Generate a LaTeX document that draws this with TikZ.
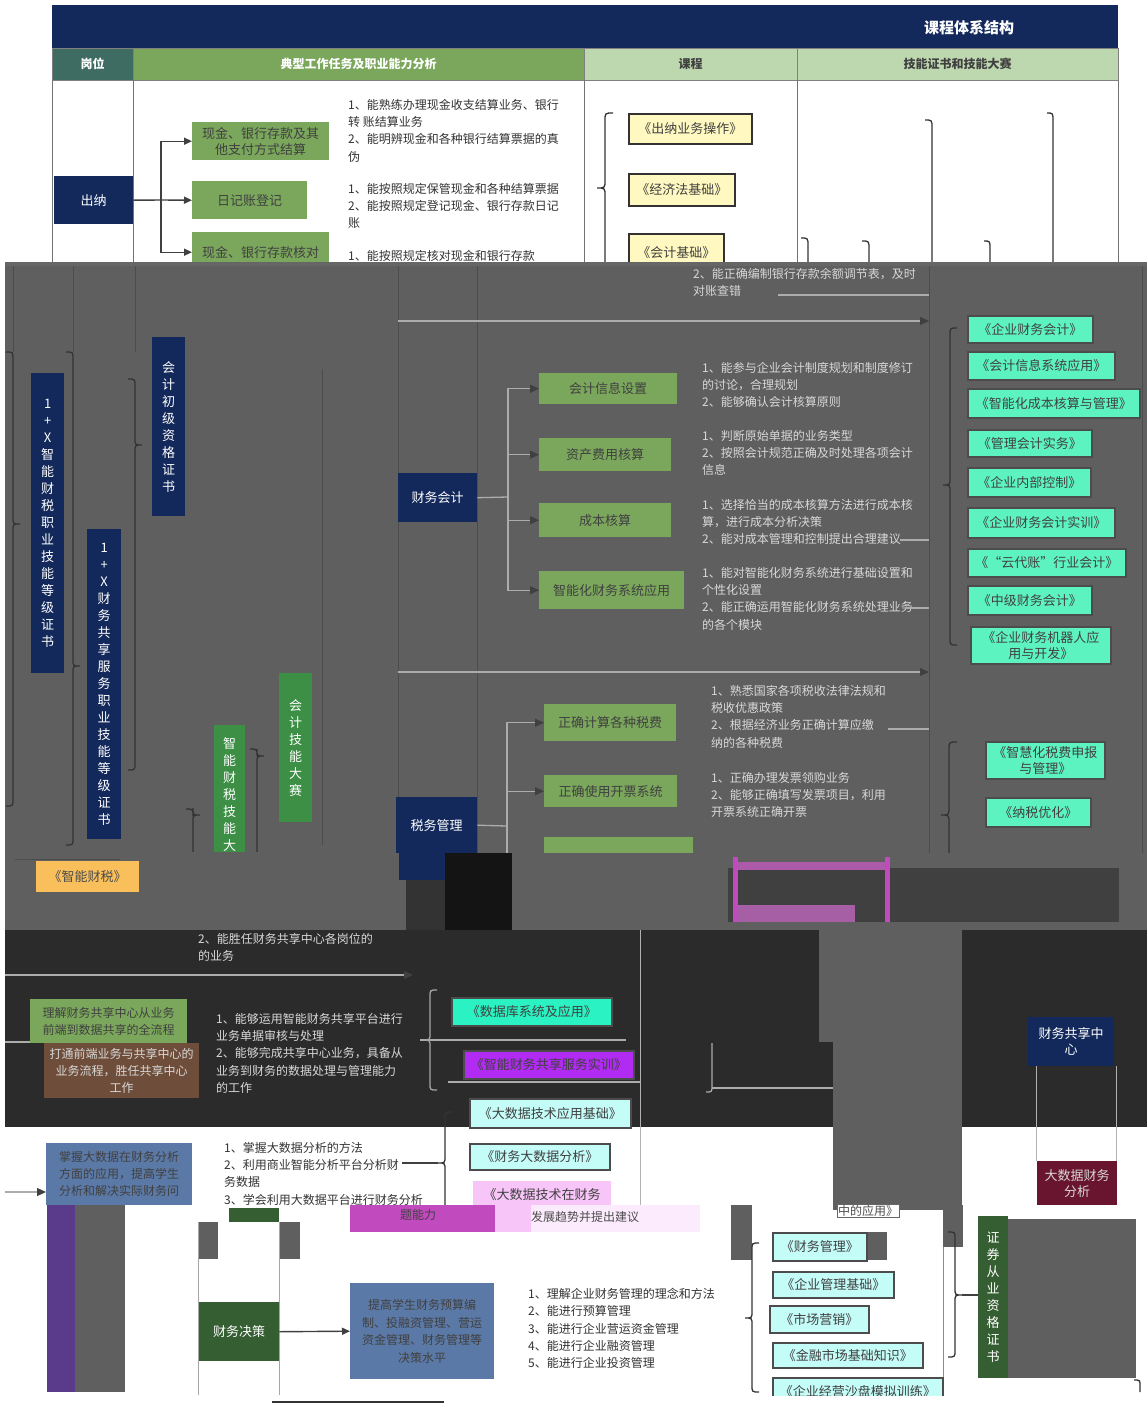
\documentclass[tikz,border=0pt]{standalone}
\usepackage{fontspec}
\setmainfont{Noto Sans CJK SC}
\usetikzlibrary{arrows.meta}
\definecolor{cnavy}{HTML}{13295B}
\definecolor{chteal}{HTML}{3E6B62}
\definecolor{cgreen}{HTML}{7BA75C}
\definecolor{clgreen}{HTML}{BDD7AE}
\definecolor{cyellow}{HTML}{FFF8C0}
\definecolor{cgray}{HTML}{5F5F5F}
\definecolor{cdark}{HTML}{2B2B2B}
\definecolor{cteal}{HTML}{5DF3C0}
\definecolor{cteal2}{HTML}{2AF2C2}
\definecolor{cpurple}{HTML}{B12BF2}
\definecolor{ccyan}{HTML}{C4FCF8}
\definecolor{cpink}{HTML}{F8C5F8}
\definecolor{cvgreen}{HTML}{3C8F45}
\definecolor{corange}{HTML}{F9BF5B}
\definecolor{csteel}{HTML}{5B79A6}
\definecolor{cdkgreen}{HTML}{355E32}
\definecolor{cmaroon}{HTML}{6A1530}
\definecolor{cmagenta}{HTML}{C04ABE}
\definecolor{cbrown}{HTML}{6E4E3A}
\definecolor{cltext}{HTML}{D8D8D8}
\definecolor{cviolet}{HTML}{5A3A8A}
\newcommand\mybox[7]{\node[#2,anchor=north west,minimum width={(#5-#3)*1pt},minimum height={(#6-#4)*1pt}] (#1) at (#3,#4) {#7};}
\newcommand\mybrace[6][]{\draw[brc,#1] (#2,#3) .. controls ({#2+#6},#3) .. ({#2+#6},{#3+abs(#6)}) -- ({#2+#6},{#4-abs(#6)}) .. controls ({#2+#6},#4) .. ({#2+2*#6},#4) .. controls ({#2+#6},#4) .. ({#2+#6},{#4+abs(#6)}) -- ({#2+#6},{#5-abs(#6)}) .. controls ({#2+#6},#5) .. (#2,#5);}
\begin{document}
\begin{tikzpicture}[x=1pt,y=-1pt,
 every node/.style={inner sep=1pt,align=center},
 hdr/.style={draw=black!50,font=\fontsize{12}{14}\selectfont\bfseries},
 nbox/.style={fill=cnavy,text=white,font=\fontsize{13}{16}\selectfont},
 gbox/.style={fill=cgreen,text=black!75,font=\fontsize{13}{16}\selectfont},
 ybox/.style={fill=cyellow,draw=black!80,line width=1.6pt,text=black!75,font=\fontsize{13}{16}\selectfont},
 tbox/.style={fill=cteal,draw=black!70,line width=1.6pt,text=black!75,font=\fontsize{13}{16}\selectfont},
 cbox/.style={fill=ccyan,draw=black!70,line width=1.6pt,text=black!75,font=\fontsize{13}{16}\selectfont},
 vbox/.style={text=white,font=\fontsize{13}{17}\selectfont},
 desc/.style={anchor=north west,align=left,inner sep=0pt,text=black!80,font=\fontsize{12}{17.3}\selectfont},
 gdesc/.style={desc,text=cltext},
 conn/.style={line width=1.4pt,draw=black!75},
 arr/.style={conn,-{Triangle[length=8pt,width=7pt]}},
 lconn/.style={line width=1.3pt,draw=gray!65},
 larr/.style={lconn,-{Triangle[length=9pt,width=8pt,color=black!75]}},
 brc/.style={line width=1.3pt,draw=black!80},
]
\useasboundingbox (0,0) rectangle (1147,1411);
\fill[white] (0,0) rectangle (1147,1411);
% ---------- header
\fill[cnavy] (52,5) rectangle (1118,48);
\node[text=white,font=\fontsize{15}{18}\selectfont\bfseries] (title) at (969,28) {课程体系结构};
\mybox{hA}{hdr,fill=chteal,text=white}{52}{48}{133}{80}{岗位}
\mybox{hB}{hdr,fill=cgreen,text=white}{133}{48}{584}{80}{典型工作任务及职业能力分析}
\mybox{hC}{hdr,fill=clgreen,text=black!75}{584}{48}{797}{80}{课程}
\mybox{hD}{hdr,fill=clgreen,text=black!75}{797}{48}{1118}{80}{技能证书和技能大赛}
\foreach \x in {52,133,584,797,1118} \draw[black!55,line width=1pt] (\x,80) -- (\x,262);
% ---------- cashier section
\mybox{cn}{nbox}{54}{176}{133}{224}{出纳}
\mybox{g1}{gbox}{192}{122}{329}{160}{现金、银行存款及其\\他支付方式结算}
\mybox{g2}{gbox}{192}{181}{307}{219}{日记账登记}
\mybox{g3}{gbox}{192}{232}{329}{272}{现金、银行存款核对}
\coordinate (j1) at (161,200);
\draw[conn] (cn.east) -- (j1);
\draw[arr] (j1) |- (g1.west);
\draw[arr] (j1) -- (g2.west);
\draw[arr] (j1) |- (g3.west);
\node[desc] (t1) at (348,99) {1、能熟练办理现金收支结算业务、银行\\转 账结算业务\\2、能明辨现金和各种银行结算票据的真\\伪};
\node[desc] (t2) at (348,183) {1、能按照规定保管现金和各种结算票据\\2、能按照规定登记现金、银行存款日记\\账};
\node[desc] (t3) at (348,250) {1、能按照规定核对现金和银行存款};
\mybrace{613}{113}{188}{275}{-8}
\mybox{y1}{ybox}{628}{113}{751}{143}{《出纳业务操作》}
\mybox{y2}{ybox}{628}{173}{734}{205}{《经济法基础》}
\mybox{y3}{ybox}{628}{233}{723}{270}{《会计基础》}
\draw[brc] (925,120) .. controls (932,120) .. (932,128) -- (932,262);
\draw[brc] (1047,113) .. controls (1053,113) .. (1053,121) -- (1053,262);
\draw[brc] (801,238) .. controls (808,238) .. (808,246) -- (808,262);
\draw[brc] (862,241) .. controls (869,241) .. (869,249) -- (869,262);
\draw[brc] (984,241) .. controls (990,241) .. (990,249) -- (990,262);
% ---------- gray section
\fill[cgray] (5,262) rectangle (1147,930);
\fill[black!60] (5,262) rectangle (1147,266);
\foreach \x in {13,73,135} \draw[black!70,line width=1pt] (\x,266) -- (\x,352);
\draw[black!70,line width=1pt] (398,266) -- (398,930);
\draw[black!70,line width=1pt] (477,266) -- (477,930);
\draw[black!70,line width=1pt] (929,266) -- (929,930);
\draw[black!70,line width=1pt] (1142,266) -- (1142,930);
\draw[black!70,line width=1pt] (322,369) -- (322,845);
\node[gdesc] (t0) at (693,268) {2、能正确编制银行存款余额调节表，及时\\对账查错};
\draw[lconn] (778,295) -- (929,295);
\coordinate (a1s) at (398,321); \coordinate (a1e) at (929,321);
\draw[larr] (a1s) -- (a1e);
\coordinate (a2s) at (398,672); \coordinate (a2e) at (929,672);
\draw[larr] (a2s) -- (a2e);
% left certificate braces and boxes
\mybrace{6}{352}{524}{806}{7}
\mybrace{66}{352}{666}{845}{7}
\mybrace{128}{379}{445}{770}{7}
\begin{scope}
\clip (150,700) rectangle (275,851);
\mybrace{186}{809}{815}{870}{7}
\mybrace{250}{749}{756}{870}{7}
\mybox{v4}{vbox,fill=cvgreen}{214}{725}{245}{880}{智\\能\\财\\税\\技\\能\\大\\赛}
\end{scope}
\mybox{v1}{vbox,fill=cnavy}{31}{373}{64}{673}{1\\+\\X\\智\\能\\财\\税\\职\\业\\技\\能\\等\\级\\证\\书}
\mybox{v2}{vbox,fill=cnavy}{87}{529}{121}{839}{1\\+\\X\\财\\务\\共\\享\\服\\务\\职\\业\\技\\能\\等\\级\\证\\书}
\mybox{v3}{vbox,fill=cnavy}{152}{337}{185}{516}{会\\计\\初\\级\\资\\格\\证\\书}
\mybox{v5}{vbox,fill=cvgreen}{279}{673}{312}{822}{会\\计\\技\\能\\大\\赛}
% financial accounting
\mybox{fk}{nbox}{398}{473}{477}{522}{财务会计}
\mybox{k1}{gbox}{539}{373}{677}{404}{会计信息设置}
\mybox{k2}{gbox}{539}{438}{671}{471}{资产费用核算}
\mybox{k3}{gbox}{539}{503}{671}{537}{成本核算}
\mybox{k4}{gbox}{539}{571}{684}{609}{智能化财务系统应用}
\coordinate (j2) at (508,497);
\draw[lconn] (fk.east) -- (j2);
\draw[larr] (j2) |- (k1.west);
\draw[larr] (j2) |- (k2.west);
\draw[larr] (j2) |- (k3.west);
\draw[larr] (j2) |- (k4.west);
\node[gdesc] (d1) at (702,362) {1、能参与企业会计制度规划和制度修订\\的讨论，合理规划\\2、能够确认会计核算原则};
\node[gdesc] (d2) at (702,430) {1、判断原始单据的业务类型\\2、按照会计规范正确及时处理各项会计\\信息};
\node[gdesc] (d3) at (702,499) {1、选择恰当的成本核算方法进行成本核\\算，进行成本分析决策\\2、能对成本管理和控制提出合理建议};
\node[gdesc] (d4) at (702,567) {1、能对智能化财务系统进行基础设置和\\个性化设置\\2、能正确运用智能化财务系统处理业务\\的各个模块};
\draw[lconn] (900,540) -- (929,540);
\draw[lconn] (905,608) -- (929,608);
\mybrace{957}{328}{485}{645}{-7}
\mybox{c1}{tbox}{967}{315}{1092}{342}{《企业财务会计》}
\mybox{c2}{tbox}{967}{351}{1114}{379}{《会计信息系统应用》}
\mybox{c3}{tbox}{967}{388}{1139}{417}{《智能化成本核算与管理》}
\mybox{c4}{tbox}{967}{429}{1091}{456}{《管理会计实务》}
\mybox{c5}{tbox}{967}{467}{1090}{496}{《企业内部控制》}
\mybox{c6}{tbox}{967}{507}{1114}{537}{《企业财务会计实训》}
\mybox{c7}{tbox}{967}{548}{1125}{576}{《“云代账”行业会计》}
\mybox{c8}{tbox}{967}{585}{1091}{614}{《中级财务会计》}
\mybox{c9}{tbox}{970}{626}{1110}{663}{《企业财务机器人应\\用与开发》}
% tax
\mybox{sw}{nbox}{396}{797}{477}{853}{税务管理}
\mybox{s1}{gbox}{544}{704}{676}{741}{正确计算各种税费}
\mybox{s2}{gbox}{544}{775}{677}{807}{正确使用开票系统}
\mybox{s3}{gbox}{544}{837}{693}{880}{}
\coordinate (j3) at (507,826);
\draw[lconn] (sw.east) -- (j3);
\draw[larr] (j3) |- (s1.west);
\draw[larr] (j3) |- (s2.west);
\draw[larr] (j3) |- (s3.west);
\node[gdesc] (d5) at (711,685) {1、熟悉国家各项税收法律法规和\\税收优惠政策\\2、根据经济业务正确计算应缴\\纳的各种税费};
\node[gdesc] (d6) at (711,772) {1、正确办理发票领购业务\\2、能够正确填写发票项目，利用\\开票系统正确开票};
\coordinate (d5r) at (888,729); \coordinate (d5e) at (929,729);
\draw[lconn] (d5r) -- (d5e);
\mybrace{957}{742}{815}{900}{-8}
\mybox{tc1}{tbox}{985}{741}{1104}{778}{《智慧化税费申报\\与管理》}
\mybox{tc2}{tbox}{985}{797}{1090}{826}{《纳税优化》}
% glitch band
\fill[cgray] (330,853) rectangle (1147,930);
\fill[cnavy] (399,853) rectangle (445,880);
\fill[black!92] (445,853) rectangle (512,932);
\fill[black!80] (406,880) rectangle (445,932);
\fill[black!75] (728,868) rectangle (1119,922);
\fill[cmagenta] (733,857) rectangle (738,922);
\fill[cmagenta!70!gray] (738,862) rectangle (885,870);
\fill[cmagenta!60!gray] (738,905) rectangle (855,922);
\fill[cmagenta] (885,857) rectangle (890,922);
\mybox{zs}{fill=corange,text=black!70,font=\fontsize{13}{16}\selectfont}{36}{861}{139}{892}{《智能财税》}
\draw[black!70,line width=1pt] (15,859) -- (120,859);
% ---------- dark section
\fill[cdark] (5,930) rectangle (1147,1127);
\fill[cgray] (833,930) rectangle (962,1210);
\fill[cgray] (819,930) rectangle (833,1042);
\draw[gray!60,line width=1pt] (640,930) -- (640,1210);
\node[gdesc] (t6) at (198,933) {2、能胜任财务共享中心各岗位的\\的业务};
\coordinate (da1) at (5,975); \coordinate (da2) at (413,975);
\draw[larr] (da1) -- (da2);
\mybox{fs1}{fill=cgreen,text=black!75,font=\fontsize{12}{17}\selectfont}{30}{999}{187}{1043}{理解财务共享中心从业务\\前端到数据共享的全流程}
\mybox{fs2}{fill=cbrown,text=cltext,font=\fontsize{12}{17}\selectfont}{44}{1043}{199}{1098}{打通前端业务与共享中心的\\业务流程，胜任共享中心\\工作}
\coordinate (fsin) at (5,1042);
\draw[lconn] (fsin) -- (fs1.west |- fsin);
\node[gdesc] (d7) at (216,1013) {1、能够运用智能财务共享平台进行\\业务单据审核与处理\\2、能够完成共享中心业务，具备从\\业务到财务的数据处理与管理能力\\的工作};
\draw[lconn] (420,1040) -- (626,1040);
\draw[lconn] (448,1082) -- (640,1082);
\mybrace[draw=gray!70]{437}{990}{1040}{1090}{-7}
\mybox{e1}{tbox,fill=cteal2}{451}{997}{611}{1025}{《数据库系统及应用》}
\mybox{e2}{tbox,fill=cpurple}{463}{1050}{633}{1078}{《智能财务共享服务实训》}
\mybox{e3}{cbox}{469}{1098}{630}{1127}{《大数据技术应用基础》}
\draw[lconn] (712,1043) -- (712,1085) .. controls (712,1092) .. (706,1092);
\draw[lconn] (712,1088) -- (833,1088);
\mybox{fx}{nbox}{1028}{1017}{1114}{1066}{财务共享中\\心}
\draw[gray!60,line width=1pt] (1036,1066) -- (1036,1161);
\draw[gray!60,line width=1pt] (1116,1066) -- (1116,1161);
\mybox{bf}{fill=cmaroon,text=cltext,font=\fontsize{13}{16}\selectfont}{1037}{1161}{1117}{1205}{大数据财务\\分析}
% ---------- white bottom
\mybox{zw}{fill=csteel,text=black!75,font=\fontsize{12}{17}\selectfont}{46}{1143}{192}{1205}{掌握大数据在财务分析\\方面的应用，提高学生\\分析和解决实际财务问}
\coordinate (zwin) at (5,1192);
\draw[larr] (zwin) -- (zw.west |- zwin);
\fill[cviolet] (47,1205) rectangle (75,1392);
\fill[cgray] (75,1205) rectangle (125,1392);
\node[desc] (d8) at (224,1142) {1、掌握大数据分析的方法\\2、利用商业智能分析平台分析财\\务数据\\3、学会利用大数据平台进行财务分析};
\draw[conn] (402,1163) -- (438,1163);
\mybrace{452}{1112}{1163}{1212}{-7}
\mybox{e4}{cbox}{469}{1143}{609}{1169}{《财务大数据分析》}
\mybox{e5}{fill=cpink,text=black!75,font=\fontsize{13}{16}\selectfont}{473}{1181}{611}{1207}{《大数据技术在财务}
\fill[cmagenta] (350,1205) rectangle (495,1232);
\node[text=black!75,font=\fontsize{12}{15}\selectfont] (t7) at (418,1215) {题能力};
\fill[cpink] (495,1205) rectangle (531,1232);
\fill[cpink!35] (531,1205) rectangle (700,1232);
\node[text=black!70,font=\fontsize{12}{15}\selectfont] (t8) at (585,1217) {发展趋势并提出建议};
\node[draw=black!60,fill=white,text=black!70,font=\fontsize{12}{15}\selectfont] (t9) at (868,1211) {中的应用》};
\fill[cdkgreen] (229,1208) rectangle (279,1222);
\fill[cgray] (198,1222) rectangle (218,1259);
\fill[cgray] (279,1222) rectangle (300,1259);
\draw[black!35,line width=0.8pt] (198,1222) -- (198,1395);
\draw[black!35,line width=0.8pt] (279,1222) -- (279,1395);
\mybox{cj}{fill=cdkgreen,text=white,font=\fontsize{13}{16}\selectfont}{199}{1302}{279}{1361}{财务决策}
\mybox{tg}{fill=csteel,text=black!75,font=\fontsize{12}{17.5}\selectfont}{350}{1283}{494}{1379}{提高学生财务预算编\\制、投融资管理、营运\\资金管理、财务管理等\\决策水平}
\draw[arr] (cj.east) -- (tg.west);
\node[desc] (d9) at (528,1288) {1、理解企业财务管理的理念和方法\\2、能进行预算管理\\3、能进行企业营运资金管理\\4、能进行企业融资管理\\5、能进行企业投资管理};
\draw[black!80,line width=1.5pt] (272,1402) -- (444,1402);
\fill[cgray] (731,1205) rectangle (752,1260);
\fill[cgray] (867,1232) rectangle (887,1260);
\fill[cgray] (943,1205) rectangle (963,1247);
\draw[black!45,line width=1pt] (943,1247) -- (943,1395);
\mybrace{759}{1243}{1318}{1392}{-7}
\mybox{f1}{cbox}{772}{1232}{866}{1260}{《财务管理》}
\mybox{f2}{cbox}{772}{1271}{893}{1297}{《企业管理基础》}
\mybox{f3}{cbox}{769}{1305}{868}{1332}{《市场营销》}
\mybox{f4}{cbox}{772}{1342}{922}{1367}{《金融市场基础知识》}
\mybox{f5}{cbox}{772}{1377}{942}{1404}{《企业经营沙盘模拟训练》}
\fill[white] (740,1396) rectangle (960,1411);
\mybrace{948}{1232}{1295}{1357}{7}
\mybox{zq}{vbox,fill=cdkgreen}{978}{1216}{1008}{1378}{证\\券\\从\\业\\资\\格\\证\\书}
\coordinate (bt) at (962,1295);
\draw[conn] (bt) -- (zq.west |- bt);
\fill[cgray] (1008,1219) rectangle (1136,1378);
\draw[brc] (1134,1380) .. controls (1140,1380) .. (1140,1386) -- (1140,1392);
\end{tikzpicture}
\end{document}
